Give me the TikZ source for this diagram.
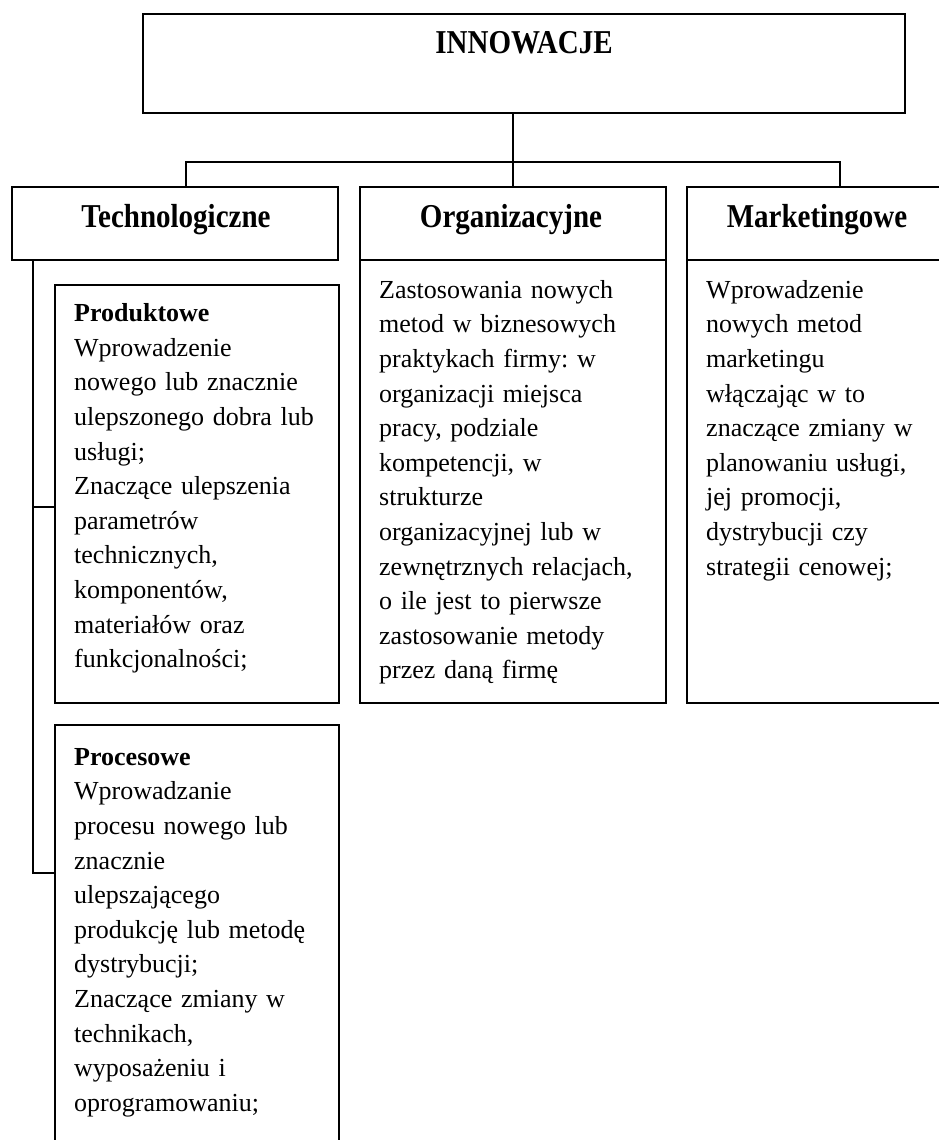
\documentclass[tikz,border=0pt]{standalone}
\usepackage{fontspec}
\usepackage{graphicx}
\setmainfont{Liberation Serif}
\frenchspacing
\newcommand{\tallhead}[1]{\scalebox{1}[1.15]{#1}}
\begin{document}
\begin{tikzpicture}[x=1pt,y=-1pt,
  box/.style={draw=black, line width=1.9pt, inner sep=0pt, outer sep=0pt, anchor=north west},
  conn/.style={draw=black, line width=1.7pt},
  headtxt/.style={inner sep=0pt, anchor=base, font=\fontsize{29}{34}\selectfont\bfseries},
  bodytxt/.style={inner sep=0pt, anchor=north west, text width=300pt, align=left, font=\fontsize{26}{34.6}\selectfont\frenchspacing}]
\useasboundingbox (0,0) rectangle (939,1140);
\clip (0,0) rectangle (939,1140);
% boxes
\node[box, minimum width=762pt, minimum height=99pt] (inn) at (143,14) {};
\node[box, minimum width=326pt, minimum height=73pt] (tech) at (12,187) {};
\node[box, minimum width=306pt, minimum height=73pt] (org) at (360,187) {};
\node[box, minimum width=260pt, minimum height=73pt] (mark) at (687,187) {};
\node[box, minimum width=306pt, minimum height=443pt] (orgc) at (360,260) {};
\node[box, minimum width=260pt, minimum height=443pt] (markc) at (687,260) {};
\node[box, minimum width=284pt, minimum height=418pt] (prod) at (55,285) {};
\node[box, minimum width=284pt, minimum height=440pt] (proc) at (55,725) {};
% headings
\node[headtxt] (tinn) at (524,53) {\tallhead{INNOWACJE}};
\node[headtxt] (ttech) at (176,227) {\tallhead{Technologiczne}};
\node[headtxt] (torg) at (511,227) {\tallhead{Organizacyjne}};
\node[headtxt] (tmark) at (817,227) {\tallhead{Marketingowe}};
% body texts
\node[bodytxt] (tprod) at (74,301.5) {\rule{0pt}{20pt}\textbf{Produktowe}\\
Wprowadzenie\\
nowego lub znacznie\\
ulepszonego dobra lub\\
usługi;\\
Znaczące ulepszenia\\
parametrów\\
technicznych,\\
komponentów,\\
materiałów oraz\\
funkcjonalności;};
\node[bodytxt] (tproc) at (74,745) {\rule{0pt}{20pt}\textbf{Procesowe}\\
Wprowadzanie\\
procesu nowego lub\\
znacznie\\
ulepszającego\\
produkcję lub metodę\\
dystrybucji;\\
Znaczące zmiany w\\
technikach,\\
wyposażeniu i\\
oprogramowaniu;};
\node[bodytxt] (torgc) at (379,278) {\rule{0pt}{20pt}Zastosowania nowych\\
metod w biznesowych\\
praktykach firmy: w\\
organizacji miejsca\\
pracy, podziale\\
kompetencji, w\\
strukturze\\
organizacyjnej lub w\\
zewnętrznych relacjach,\\
o ile jest to pierwsze\\
zastosowanie metody\\
przez daną firmę};
\node[bodytxt] (tmarkc) at (706,278) {\rule{0pt}{20pt}Wprowadzenie\\
nowych metod\\
marketingu\\
włączając w to\\
znaczące zmiany w\\
planowaniu usługi,\\
jej promocji,\\
dystrybucji czy\\
strategii cenowej;};
% connectors
\coordinate (b1) at (186,162);
\coordinate (b3) at (840,162);
\draw[conn] (inn.south -| org.north) -- (org.north);
\draw[conn] (b1 |- tech.north) -- (b1) -- (b3) -- (b3 |- mark.north);
\coordinate (sp) at (33,260);
\coordinate (spm) at (33,507);
\coordinate (spb) at (33,873);
\draw[conn] (sp) -- (spb) -- (spb -| proc.west);
\draw[conn] (spm) -- (spm -| prod.west);
\end{tikzpicture}
\end{document}
